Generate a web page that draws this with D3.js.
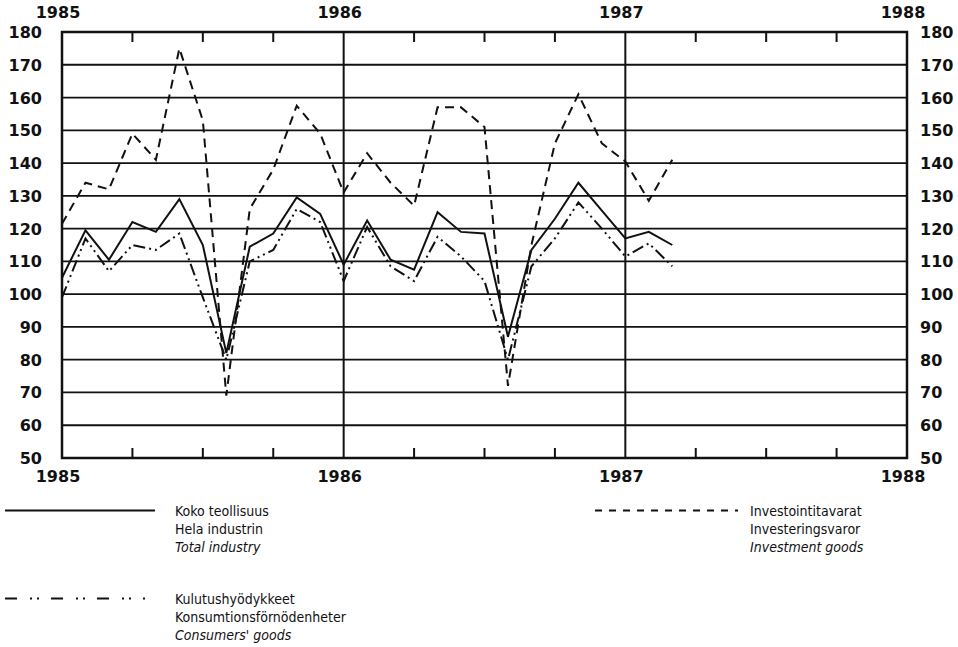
<!DOCTYPE html>
<html>
<head>
<meta charset="utf-8">
<script src="https://cdn.jsdelivr.net/npm/d3@7"></script>
<style>
  html, body { margin: 0; padding: 0; background: #fff; }
  svg { display: block; }
  .tick-label { font-family: "DejaVu Sans", sans-serif; font-weight: bold; font-size: 16px; fill: #111; }
  .legend { font-family: "Liberation Sans Narrow", "DejaVu Sans Condensed", "DejaVu Sans", sans-serif; font-stretch: condensed; font-size: 14px; fill: #111; }
</style>
</head>
<body>
<svg id="chart" width="958" height="647"></svg>
<script>
// Monthly index, Jan 1985 .. Mar 1987
const START_YEAR = 1985;
const monthCount = 27;

const totalIndustry = [
  105, 119.5, 110.5, 122, 119, 129, 115, 82, 114.5, 118.5, 129.5, 124.5,
  109, 122.5, 110.5, 107.5, 125, 119, 118.5, 87, 113.5, 123, 134, 125.5,
  117, 119, 115
];
const investmentGoods = [
  121.5, 134, 132, 149, 141, 175, 153, 69, 126, 138, 157.5, 149,
  131, 143, 134, 127, 157, 157, 151, 72, 115, 146, 161, 146,
  140.5, 128.5, 141
];
const consumerGoods = [
  99, 117, 107, 115, 113.5, 118.5, 99, 80, 110, 113.5, 126, 122,
  104, 120.5, 108.5, 104, 117.5, 111.5, 104, 80, 108.5, 117, 128, 120,
  111.5, 115.5, 108.5
];

const yearTicks = [1985, 1986, 1987, 1988];
const quarterTicks = [0.25, 0.5, 0.75];
const yTicks = [50, 60, 70, 80, 90, 100, 110, 120, 130, 140, 150, 160, 170, 180];

const legendTotal = ['Koko teollisuus', 'Hela industrin', 'Total industry'];
const legendInvest = ['Investointitavarat', 'Investeringsvaror', 'Investment goods'];
const legendConsumer = ['Kulutushyödykkeet', 'Konsumtionsförnödenheter', "Consumers' goods"];

const svg = d3.select('#chart');
const plot = { left: 62, right: 907, top: 32, bottom: 458 };

const x = d3.scaleLinear().domain([1985, 1988]).range([plot.left, plot.right]);
const y = d3.scaleLinear().domain([50, 180]).range([plot.bottom, plot.top]);

const INK = '#111';

// horizontal grid
svg.append('g')
  .selectAll('line')
  .data(yTicks)
  .join('line')
  .attr('x1', plot.left).attr('x2', plot.right)
  .attr('y1', (d) => y(d)).attr('y2', (d) => y(d))
  .attr('stroke', INK).attr('stroke-width', 1.8);

// year dividers
svg.append('g')
  .selectAll('line')
  .data(yearTicks.slice(1, -1))
  .join('line')
  .attr('x1', (d) => x(d)).attr('x2', (d) => x(d))
  .attr('y1', plot.top).attr('y2', plot.bottom)
  .attr('stroke', INK).attr('stroke-width', 2);

// quarter ticks top & bottom
const qt = [];
yearTicks.slice(0, -1).forEach((yr) => quarterTicks.forEach((q) => qt.push(yr + q)));
const tickG = svg.append('g');
tickG.selectAll('line.top')
  .data(qt).join('line').attr('class', 'top')
  .attr('x1', (d) => x(d)).attr('x2', (d) => x(d))
  .attr('y1', plot.top).attr('y2', plot.top + 10)
  .attr('stroke', INK).attr('stroke-width', 2);
tickG.selectAll('line.bot')
  .data(qt).join('line').attr('class', 'bot')
  .attr('x1', (d) => x(d)).attr('x2', (d) => x(d))
  .attr('y1', plot.bottom).attr('y2', plot.bottom - 10)
  .attr('stroke', INK).attr('stroke-width', 2);

// frame
svg.append('rect')
  .attr('x', plot.left).attr('y', plot.top)
  .attr('width', plot.right - plot.left).attr('height', plot.bottom - plot.top)
  .attr('fill', 'none').attr('stroke', INK).attr('stroke-width', 2.5);

// y labels, both sides
svg.append('g')
  .selectAll('text')
  .data(yTicks)
  .join('text')
  .attr('class', 'tick-label')
  .attr('x', 42).attr('y', (d) => y(d) + 6)
  .attr('text-anchor', 'end')
  .text((d) => d);
svg.append('g')
  .selectAll('text')
  .data(yTicks)
  .join('text')
  .attr('class', 'tick-label')
  .attr('x', 920).attr('y', (d) => y(d) + 6)
  .attr('text-anchor', 'start')
  .text((d) => d);

// year labels top & bottom
svg.append('g')
  .selectAll('text')
  .data(yearTicks)
  .join('text')
  .attr('class', 'tick-label')
  .attr('x', (d) => x(d) - 4).attr('y', 18)
  .attr('text-anchor', 'middle')
  .text((d) => d);
svg.append('g')
  .selectAll('text')
  .data(yearTicks)
  .join('text')
  .attr('class', 'tick-label')
  .attr('x', (d) => x(d) - 4).attr('y', 482)
  .attr('text-anchor', 'middle')
  .text((d) => d);

// series
const line = d3.line()
  .x((d, i) => x(START_YEAR + i / 12))
  .y((d) => y(d));

const series = [
  { values: totalIndustry, dash: null },
  { values: investmentGoods, dash: '9,6' },
  { values: consumerGoods, dash: '12,4,2,4,2,4' },
];

svg.append('g')
  .selectAll('path')
  .data(series)
  .join('path')
  .attr('d', (d) => line(d.values.slice(0, monthCount)))
  .attr('fill', 'none')
  .attr('stroke', INK)
  .attr('stroke-width', 2)
  .attr('stroke-linejoin', 'miter')
  .attr('stroke-dasharray', (d) => d.dash);

// legend
function legendBlock(x0, x1, textX, lineY, baseY, dash, labels) {
  const g = svg.append('g');
  g.append('line')
    .attr('x1', x0).attr('x2', x1)
    .attr('y1', lineY).attr('y2', lineY)
    .attr('stroke', INK).attr('stroke-width', 2)
    .attr('stroke-dasharray', dash);
  g.selectAll('text')
    .data(labels)
    .join('text')
    .attr('class', 'legend')
    .attr('x', textX)
    .attr('y', (d, i) => baseY + i * 18)
    .style('font-style', (d, i) => (i === 2 ? 'italic' : 'normal'))
    .text((d) => d);
}

legendBlock(5, 155, 175, 510.5, 516, null, legendTotal);
legendBlock(595, 738, 750, 510.5, 516, '7,7', legendInvest);
legendBlock(5, 145, 175, 598.5, 604, '12,13,2,5,2,12', legendConsumer);
</script>
</body>
</html>
